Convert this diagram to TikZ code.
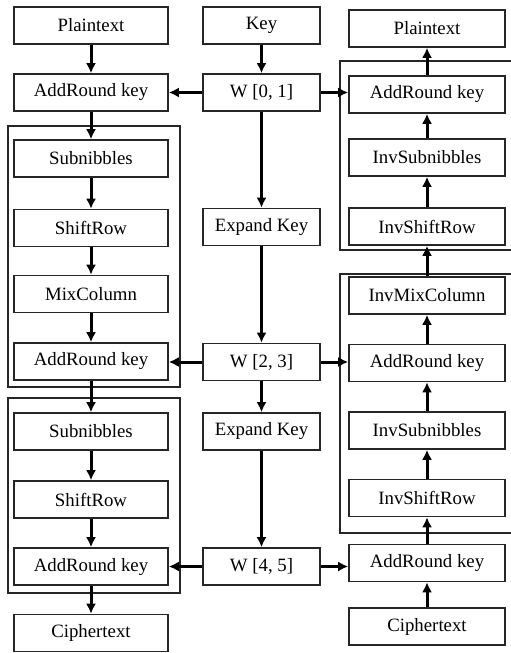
\documentclass[tikz,border=0pt]{standalone}
\usepackage{fontspec}
\setmainfont{Liberation Serif}
\usetikzlibrary{arrows.meta}
\begin{document}
\begin{tikzpicture}[x=1pt,y=-1pt,
        blk/.style={draw=black!85, line width=1.6pt, minimum height=37pt, inner sep=0pt,
          font=\fontsize{18.8}{20}\selectfont},
        lblk/.style={blk, minimum width=154pt},
        mblk/.style={blk, minimum width=117pt},
        rblk/.style={blk, minimum width=156pt},
        arr/.style={-{Latex[length=10pt,width=10pt]}, line width=3pt},
        frm/.style={draw=black!85, line width=1.6pt}]
        \useasboundingbox (0,0) rectangle (511,653);
        % round frames
        \draw [frm] (8,126) rectangle (180,387);
        \draw [frm] (8,398) rectangle (180,593);
        \draw [frm] (340,61) rectangle (520,250);
        \draw [frm] (340,274) rectangle (520,533);
        % encryption
        \foreach \n/\y/\t in {lp/25.5/Plaintext, la1/92.5/AddRound key, ls1/158.5/Subnibbles,
            lr1/228/ShiftRow, lm/294/MixColumn, la2/361.5/AddRound key, ls2/431.5/Subnibbles,
            lr2/499.5/ShiftRow, la3/566.5/AddRound key, lc/633/Ciphertext}{
          \node [lblk] (\n) at (91,\y) {\t};
        }
        % key expansion
        \foreach \n/\y/\t in {k/25.5/Key, w01/92.5/{W [0, 1]}, e1/227/Expand Key,
            w23/362/{W [2, 3]}, e2/431.5/Expand Key, w45/566.5/{W [4, 5]}}{
          \node [mblk] (\n) at (261.5,\y) {\t};
        }
        % decryption
        \foreach \n/\y/\t in {rp/28.5/Plaintext, ra1/94.5/AddRound key, rs1/157.5/InvSubnibbles,
            rr1/226.5/InvShiftRow, rm/295.5/InvMixColumn, ra2/363/AddRound key,
            rs2/430.5/InvSubnibbles, rr2/498/InvShiftRow, ra3/563/AddRound key, rc/626.5/Ciphertext}{
          \node [rblk] (\n) at (427,\y) {\t};
        }
        \foreach \a/\b in {lp/la1, la1/ls1, ls1/lr1, lr1/lm, lm/la2, la2/ls2, ls2/lr2, lr2/la3, la3/lc,
            k/w01, w01/e1, e1/w23, w23/e2, e2/w45,
            rc/ra3, ra3/rr2, rr2/rs2, rs2/ra2, ra2/rm, rm/rr1, rr1/rs1, rs1/ra1, ra1/rp}{
          \draw [arr] (\a) -- (\b);
        }
        \foreach \w/\l/\r in {w01/la1/ra1, w23/la2/ra2, w45/la3/ra3}{
          \draw [arr] (\w) -- (\w -| \l.east);
          \draw [arr] (\w) -- (\w -| \r.west);
        }
      \end{tikzpicture}
\end{document}
